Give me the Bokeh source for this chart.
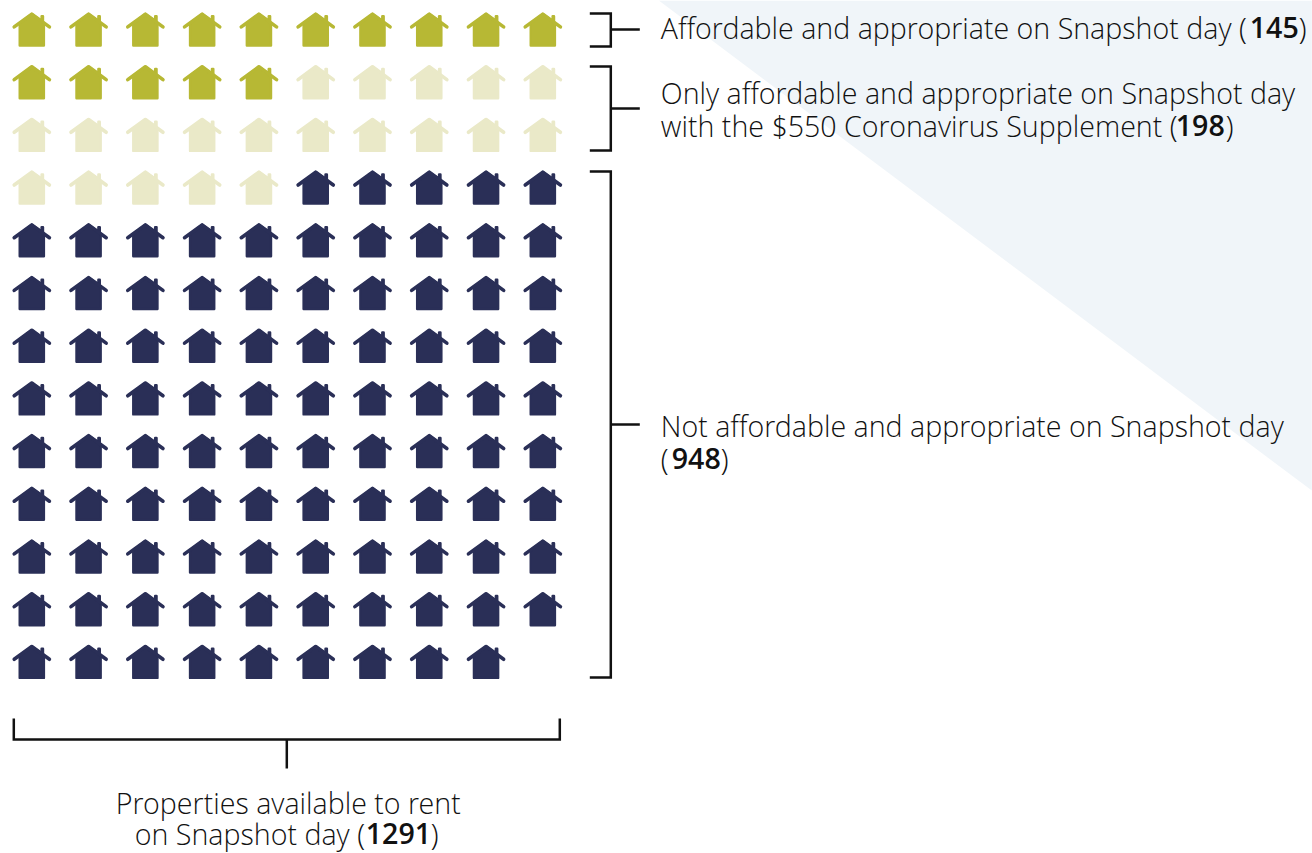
from bokeh.plotting import figure
from bokeh.models import Range1d, ColumnDataSource
from bokeh.core.properties import value
from bokeh.embed import file_html
from bokeh.resources import INLINE

# Homes per colour, one icon standing for about ten properties
ICON_COUNTS = [15, 20, 94]
ICON_COLOURS = ["#B7B834", "#EAE9C8", "#2A2F57"]
COLUMNS = 10
COL_START, COL_STEP = 32.0, 56.78
ROW_START, ROW_STEP = 29.0, 52.7

# House body and chimney around the icon's centre; the stroke rounds its corners
HOUSE_X = [0, 9.8, 9.8, 11.2, 11.2, 12.1, 12.1, -12.1, -12.1]
HOUSE_Y = [-15.5, -8.5, -13.2, -13.2, -7.4, -6.4, 16, 16, -6.4]
# Roof ridge, drawn as one thick round-capped line
ROOF_X = [-17.6, 0, 17.6]
ROOF_Y = [-2.6, -15.4, -2.6]

BACKDROP_X = [659, 1312, 1312]
BACKDROP_Y = [0, 490, 0]

FONT = "Open Sans Light"
BOLD_FONT = "Open Sans SemiBold"
TEXT_SIZE = "28.6px"
BASELINE_SHIFT = -10

# Each entry: left edge, baseline, plain run, bold run and its left edge, closing run and its left edge
LABELS = [
    (661, 37, "Affordable and appropriate on Snapshot day (", "145", 1250, ")", 1299),
    (661, 102, "Only affordable and appropriate on Snapshot day", "", 0, "", 0),
    (661, 135, "with the $550 Coronavirus Supplement (", "198", 1176, ")", 1226),
    (661, 435, "Not affordable and appropriate on Snapshot day", "", 0, "", 0),
    (661, 468, "(", "948", 672, ")", 721),
    (116, 812, "Properties available to rent", "", 0, "", 0),
    (135, 843, "on Snapshot day (", "1291", 366, ")", 431),
]

# Bracket paths: right-hand groups, then the base of the grid
BRACKETS = [
    ([590, 611, 611, 590], [13, 13, 46, 46], [611, 640], [29, 29]),
    ([590, 611, 611, 590], [66, 66, 150, 150], [611, 640], [108, 108]),
    ([590, 611, 611, 590], [171, 171, 677, 677], [611, 640], [424, 424]),
    ([14, 14, 560, 560], [718, 739, 739, 718], [287, 287], [739, 768]),
]

p = figure(width=1312, height=853, output_backend="svg", toolbar_location=None,
           x_range=Range1d(0.7, 1312.7), y_range=Range1d(853, 0), min_border=0)
p.xaxis.visible = False
p.yaxis.visible = False
p.grid.visible = False
p.outline_line_color = None
p.background_fill_color = "white"

p.patch(BACKDROP_X, BACKDROP_Y, fill_color="#F0F5F9", line_color=None)

# Lay the icons out row by row, colour after colour
xs, ys, rx, ry, colours = [], [], [], [], []
index = 0
for count, colour in zip(ICON_COUNTS, ICON_COLOURS):
    for _ in range(count):
        row, col = divmod(index, COLUMNS)
        cx = COL_START + col * COL_STEP
        cy = ROW_START + row * ROW_STEP
        xs.append([cx + dx for dx in HOUSE_X])
        ys.append([cy + dy for dy in HOUSE_Y])
        rx.append([cx + dx for dx in ROOF_X])
        ry.append([cy + dy for dy in ROOF_Y])
        colours.append(colour)
        index += 1
icons = ColumnDataSource(dict(xs=xs, ys=ys, rx=rx, ry=ry, c=colours))
p.patches("xs", "ys", source=icons, fill_color="c", line_color="c",
          line_width=2.4, line_join="round")
p.multi_line("rx", "ry", source=icons, line_color="c", line_width=3.6,
             line_join="round", line_cap="round")

for bx, by, tx, ty in BRACKETS:
    p.line(bx, by, line_color="#111111", line_width=2.5, line_join="miter")
    p.line(tx, ty, line_color="#111111", line_width=2.5)


def run(x, y, text, font=FONT):
    p.text([x], [y + BASELINE_SHIFT], text=[text], text_font=value(font),
           text_font_size=TEXT_SIZE, text_color="#111111",
           text_baseline="alphabetic", text_align="left")


for left, base, plain, bold, bold_x, tail, tail_x in LABELS:
    run(left, base, plain)
    if bold:
        run(bold_x, base, bold, BOLD_FONT)
        run(tail_x, base, tail)

open("out.html", "w").write(file_html(p, INLINE))
